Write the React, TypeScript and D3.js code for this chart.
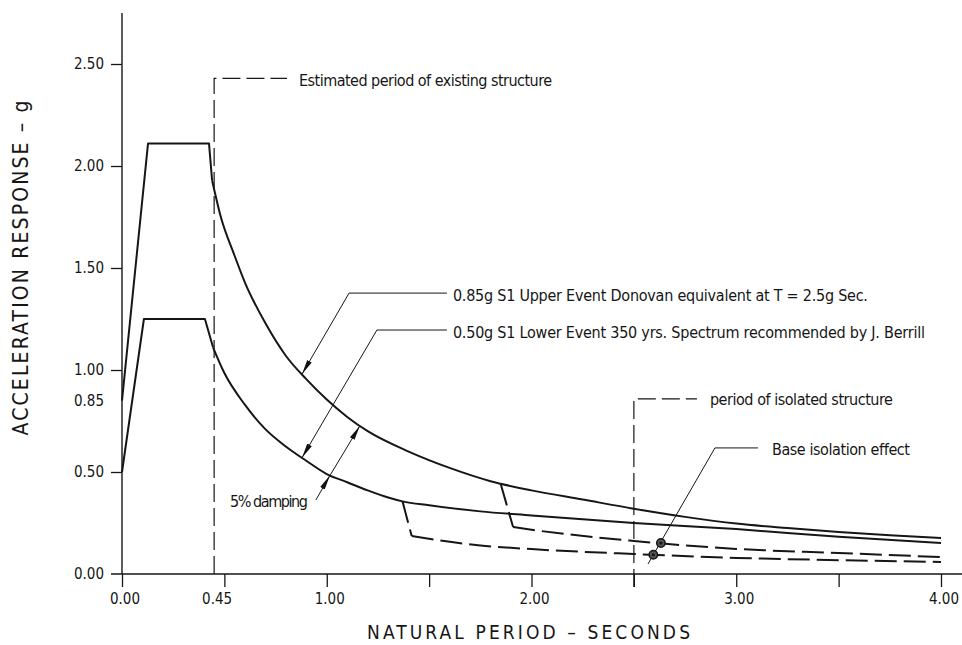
import { useEffect, useRef } from 'react';
import * as d3 from 'd3';

const WIDTH = 962;
const HEIGHT = 645;
const FONT = "'Liberation Sans Narrow', 'DejaVu Sans Condensed', 'Liberation Sans', sans-serif";

// natural period (s), acceleration response (g)
const upperRamp = [[0, 0.85], [0.127, 2.11], [0.425, 2.11], [0.44, 1.93]];
const upperDecay = [
  [0.44, 1.93], [0.48, 1.76], [0.55, 1.56], [0.6, 1.43], [0.7, 1.23], [0.8, 1.07],
  [0.9, 0.955], [1.0, 0.855], [1.1, 0.77], [1.2, 0.7], [1.4, 0.6], [1.6, 0.52],
  [1.8, 0.455], [2.0, 0.41], [2.25, 0.365], [2.5, 0.32], [2.75, 0.28], [3.0, 0.247],
  [3.25, 0.225], [3.5, 0.206], [3.75, 0.19], [4.0, 0.176],
];
const lowerRamp = [[0, 0.5], [0.107, 1.25], [0.405, 1.25], [0.445, 1.11]];
const lowerDecay = [
  [0.445, 1.11], [0.5, 0.985], [0.6, 0.83], [0.7, 0.71], [0.8, 0.625], [0.9, 0.555],
  [1.0, 0.49], [1.1, 0.45], [1.2, 0.41], [1.3, 0.375], [1.37, 0.356], [1.5, 0.337],
  [1.75, 0.307], [2.0, 0.287], [2.5, 0.25], [3.0, 0.22], [3.5, 0.182], [4.0, 0.152],
];
// base isolated branches (dashed)
const upperIsoDrop = [[1.85, 0.44], [1.91, 0.23]];
const upperIsoTail = [[1.91, 0.23], [2.0, 0.217], [2.5, 0.162], [3.0, 0.123], [3.5, 0.103], [4.0, 0.083]];
const lowerIsoDrop = [[1.37, 0.356], [1.415, 0.186]];
const lowerIsoTail = [[1.415, 0.186], [1.75, 0.14], [2.0, 0.122], [2.5, 0.098], [3.0, 0.079], [3.5, 0.068], [4.0, 0.059]];

const yTicks = [0.5, 1, 1.5, 2, 2.5];
const yLabels = [0, 0.5, 0.85, 1, 1.5, 2, 2.5];
const xTicks = [0, 0.5, 1, 1.5, 2, 2.5, 3, 3.5, 4];
const xLabels = [0, 0.45, 1, 2, 3, 4];

const existingPeriod = 0.45;
const isolatedPeriod = 2.5;

function valueAt(series, t) {
  const i = d3.bisector(d => d[0]).left(series, t);
  if (i <= 0) return series[0][1];
  if (i >= series.length) return series[series.length - 1][1];
  const [t0, v0] = series[i - 1];
  const [t1, v1] = series[i];
  return v0 + ((v1 - v0) * (t - t0)) / (t1 - t0);
}

function Chart() {
  const svgRef = useRef(null);

  useEffect(() => {
    const svg = d3.select(svgRef.current);
    svg.selectAll('*').remove();

    const x = d3.scaleLinear().domain([0, 4]).range([122, 941]);
    const y = d3.scaleLinear().domain([0, 2.75]).range([574, 13]);

    const straight = d3.line().x(d => x(d[0])).y(d => y(d[1]));
    const smooth = d3.line().x(d => x(d[0])).y(d => y(d[1])).curve(d3.curveMonotoneX);

    const defs = svg.append('defs');
    defs
      .append('marker')
      .attr('id', 'arrow')
      .attr('viewBox', '0 -3 15 6')
      .attr('refX', 15)
      .attr('refY', 0)
      .attr('markerWidth', 15)
      .attr('markerHeight', 6)
      .attr('markerUnits', 'userSpaceOnUse')
      .attr('orient', 'auto')
      .append('path')
      .attr('d', 'M0,-2.6L15,0L0,2.6Z')
      .attr('fill', '#111');

    const ink = '#161616';

    // axes
    svg.append('line')
      .attr('x1', x(0)).attr('x2', x(0))
      .attr('y1', y(2.75)).attr('y2', y(0))
      .attr('stroke', ink).attr('stroke-width', 1.4);
    svg.append('line')
      .attr('x1', x(0) - 11).attr('x2', WIDTH)
      .attr('y1', y(0)).attr('y2', y(0))
      .attr('stroke', ink).attr('stroke-width', 1.6);

    const xAxis = svg.append('g')
      .attr('transform', `translate(0,${y(0)})`)
      .call(d3.axisBottom(x).tickValues(xTicks).tickSize(13).tickFormat(() => ''));
    const yAxis = svg.append('g')
      .attr('transform', `translate(${x(0)},0)`)
      .call(d3.axisLeft(y).tickValues(yTicks).tickSize(11).tickFormat(() => ''));
    [xAxis, yAxis].forEach(axis => {
      axis.select('.domain').remove();
      axis.selectAll('line').attr('stroke', ink).attr('stroke-width', 1.3);
    });

    svg.append('g')
      .selectAll('text')
      .data(yLabels)
      .enter()
      .append('text')
      .attr('x', 104)
      .attr('y', d => y(d) + 5)
      .attr('text-anchor', 'end')
      .style('font-family', FONT)
      .style('font-size', '15px')
      .attr('fill', ink)
      .text(d => d.toFixed(2));

    svg.append('g')
      .selectAll('text')
      .data(xLabels)
      .enter()
      .append('text')
      .attr('x', d => x(d) + 3)
      .attr('y', 604)
      .attr('text-anchor', 'middle')
      .style('font-family', FONT)
      .style('font-size', '15px')
      .attr('fill', ink)
      .text(d => d.toFixed(2));

    // axis titles
    svg.append('text')
      .attr('transform', 'translate(28,268) rotate(-90)')
      .attr('text-anchor', 'middle')
      .attr('textLength', 335)
      .attr('lengthAdjust', 'spacing')
      .style('font-family', FONT)
      .style('font-size', '21px')
      .attr('fill', ink)
      .text('ACCELERATION RESPONSE – g');

    svg.append('text')
      .attr('x', 367)
      .attr('y', 639)
      .attr('textLength', 323)
      .attr('lengthAdjust', 'spacing')
      .style('font-family', FONT)
      .style('font-size', '19px')
      .attr('fill', ink)
      .text('NATURAL PERIOD – SECONDS');

    // spectra
    const drawCurve = (data, gen, dashed) => {
      svg.append('path')
        .attr('d', gen(data))
        .attr('fill', 'none')
        .attr('stroke', ink)
        .attr('stroke-width', 2)
        .attr('stroke-linejoin', 'round')
        .attr('stroke-dasharray', dashed ? '22,7' : null);
    };
    drawCurve(upperRamp, straight, false);
    drawCurve(upperDecay, smooth, false);
    drawCurve(lowerRamp, straight, false);
    drawCurve(lowerDecay, smooth, false);
    drawCurve(upperIsoDrop, straight, true);
    drawCurve(upperIsoTail, smooth, true);
    drawCurve(lowerIsoDrop, straight, true);
    drawCurve(lowerIsoTail, smooth, true);

    const label = (px, py, str, len, anchor = 'start') => {
      svg.append('text')
        .attr('x', px)
        .attr('y', py)
        .attr('text-anchor', anchor)
        .attr('textLength', len)
        .attr('lengthAdjust', 'spacing')
        .style('font-family', FONT)
        .style('font-size', '16px')
        .attr('fill', ink)
        .text(str);
    };
    const thin = (points, opts = {}) => {
      svg.append('path')
        .attr('d', d3.line()(points))
        .attr('fill', 'none')
        .attr('stroke', ink)
        .attr('stroke-width', opts.width || 1)
        .attr('stroke-dasharray', opts.dash || null)
        .attr('marker-mid', opts.mid ? 'url(#arrow)' : null)
        .attr('marker-end', opts.arrow ? 'url(#arrow)' : null);
    };

    // estimated period of existing structure
    const exTop = y(2.43);
    thin([[x(existingPeriod), y(0)], [x(existingPeriod), exTop], [x(0.806), exTop]], { dash: '18,6', width: 1.2 });
    label(x(0.806) + 12, exTop + 8, 'Estimated period of existing structure', 253);

    // upper event leader
    const upTip = [x(0.879), y(valueAt(upperDecay, 0.879))];
    const upCorner = [x(1.109), y(1.377)];
    thin([upCorner, upTip], { arrow: true });
    thin([upCorner, [x(1.587), upCorner[1]]]);
    label(x(1.587) + 6, upCorner[1] + 8, '0.85g S1 Upper Event Donovan equivalent at T = 2.5g Sec.', 415);

    // lower event leader
    const loTip = [x(0.879), y(valueAt(lowerDecay, 0.879))];
    const loCorner = [x(1.245), y(1.196)];
    thin([loCorner, loTip], { arrow: true });
    thin([loCorner, [x(1.587), loCorner[1]]]);
    label(x(1.587) + 6, loCorner[1] + 8, '0.50g S1 Lower Event 350 yrs. Spectrum recommended by J. Berrill', 472);

    // 5% damping
    const dStart = [x(0.947), y(0.363)];
    const dLow = [x(1.016), y(valueAt(lowerDecay, 1.016))];
    const dUp = [x(1.162), y(valueAt(upperDecay, 1.162))];
    thin([dStart, dLow, dUp], { arrow: true, mid: true });
    label(dStart[0] - 8, dStart[1] + 7, '5% damping', 78, 'end');

    // period of isolated structure
    const isoTop = y(0.858);
    thin([[x(isolatedPeriod), y(0) + 13], [x(isolatedPeriod), isoTop], [x(2.808), isoTop]], { dash: '18,6', width: 1.2 });
    label(x(2.808) + 13, isoTop + 6, 'period of isolated structure', 183);

    // base isolation effect
    const bCorner = [x(2.896), y(0.618)];
    thin([[x(2.569), y(0.049)], bCorner]);
    thin([bCorner, [x(3.106), bCorner[1]]]);
    label(x(3.106) + 14, bCorner[1] + 7, 'Base isolation effect', 138);

    [[upperIsoTail, 2.632], [lowerIsoTail, 2.595]].forEach(([series, t]) => {
      const cx = x(t);
      const cy = y(valueAt(series, t));
      svg.append('circle').attr('cx', cx).attr('cy', cy).attr('r', 4.2)
        .attr('fill', '#555').attr('stroke', ink).attr('stroke-width', 1.5);
      svg.append('circle').attr('cx', cx).attr('cy', cy).attr('r', 1.6).attr('fill', ink);
    });
  }, []);

  return (
    <svg
      ref={svgRef}
      width={WIDTH}
      height={HEIGHT}
      style={{ position: 'absolute', left: 0, top: 0, background: '#fff' }}
    />
  );
}

export default function App() {
  return <Chart />;
}
